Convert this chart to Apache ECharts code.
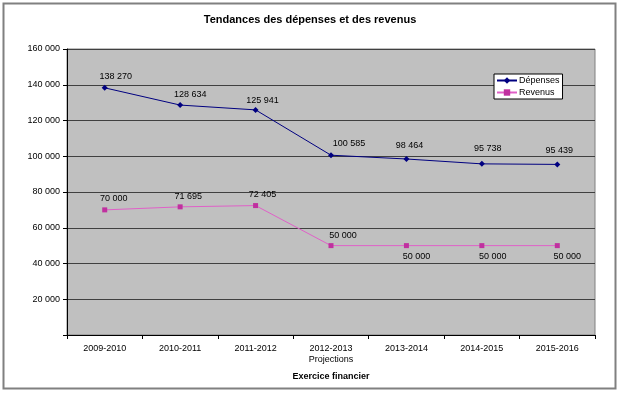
<!DOCTYPE html>
<html><head><meta charset="utf-8">
<script src="https://cdn.jsdelivr.net/npm/echarts@6/dist/echarts.min.js"></script>
<style>html,body{margin:0;padding:0;background:#fff}#c{width:620px;height:394px}</style>
</head><body><div id="c"></div>
<script>
var categories = ['2009-2010', '2010-2011', '2011-2012', '2012-2013\nProjections', '2013-2014', '2014-2015', '2015-2016'];
var depenses = [138270, 128634, 125941, 100585, 98464, 95738, 95439];
var revenus = [70000, 71695, 72405, 50000, 50000, 50000, 50000];
// label placement (text offsets, as in the original Excel chart)
var depensesLabelOffset = [[11, -11], [10, -11], [7, -9], [18, -12], [3, -13], [6, -15], [2, -14]];
var revenusLabelOffset = [[9, -11], [8, -10], [7, -11], [12, -10], [10, 11], [11, 11], [10, 11]];

function fmt(v) { return String(v).replace(/\B(?=(\d{3})+(?!\d))/g, ' '); }
var FONT = '"Liberation Sans", Arial, sans-serif';

function withLabels(values, offsets) {
  return values.map(function (v, i) {
    return {value: v, label: {offset: offsets[i]}};
  });
}

var chart = echarts.init(document.getElementById('c'), null, {renderer: 'canvas'});
chart.setOption({
  animation: false,
  textStyle: {fontFamily: FONT},
  title: {
    text: 'Tendances des dépenses et des revenus',
    left: 'center', top: 9,
    textStyle: {fontSize: 11, fontWeight: 'bold', color: '#000', fontFamily: FONT}
  },
  graphic: [{
    type: 'rect', shape: {x: 3.5, y: 3.5, width: 612, height: 385},
    style: {fill: 'none', stroke: '#808080', lineWidth: 2}, silent: true, z: -1
  }],
  legend: {
    orient: 'vertical', left: 494, top: 74,
    backgroundColor: '#fff', borderColor: '#000', borderWidth: 1,
    padding: [2, 3, 2, 2], itemGap: 3, itemWidth: 20, itemHeight: 8,
    textStyle: {fontSize: 9, color: '#000', fontFamily: FONT, padding: [0, 0, 0, -3]},
    data: ['Dépenses', 'Revenus']
  },
  grid: {
    left: 67, right: 25, top: 49, bottom: 59,
    show: true, backgroundColor: '#c0c0c0', borderColor: '#808080', borderWidth: 1
  },
  xAxis: {
    type: 'category', data: categories, boundaryGap: true,
    name: 'Exercice financier', nameLocation: 'middle', nameGap: 37,
    nameTextStyle: {fontSize: 9, fontWeight: 'bold', color: '#000', fontFamily: FONT},
    axisLine: {lineStyle: {color: '#000', width: 1}},
    axisTick: {show: true, length: 4, lineStyle: {color: '#000'}},
    axisLabel: {fontSize: 9, color: '#000', margin: 8, lineHeight: 11, interval: 0, fontFamily: FONT}
  },
  yAxis: {
    type: 'value', min: 0, max: 160000, interval: 20000,
    axisLine: {show: true, lineStyle: {color: '#000', width: 1}},
    axisTick: {show: true, length: 4, lineStyle: {color: '#000'}},
    axisLabel: {fontSize: 9, color: '#000', margin: 7, fontFamily: FONT,
      formatter: function (v) { return v === 0 ? '' : fmt(v); }},
    splitLine: {show: true, lineStyle: {color: '#404040', width: 1}}
  },
  series: [{
    name: 'Dépenses', type: 'line', data: withLabels(depenses, depensesLabelOffset),
    symbol: 'diamond', symbolSize: 6,
    lineStyle: {color: '#000080', width: 1},
    itemStyle: {color: '#000080'},
    label: {show: true, position: 'inside', align: 'center', verticalAlign: 'middle',
      fontSize: 9, color: '#000', fontFamily: FONT,
      formatter: function (p) { return fmt(p.value); }}
  }, {
    name: 'Revenus', type: 'line', data: withLabels(revenus, revenusLabelOffset),
    symbol: 'rect', symbolSize: 5,
    lineStyle: {color: '#E060C8', width: 1},
    itemStyle: {color: '#C0309F'},
    label: {show: true, position: 'inside', align: 'center', verticalAlign: 'middle',
      fontSize: 9, color: '#000', fontFamily: FONT,
      formatter: function (p) { return fmt(p.value); }}
  }]
});
</script></body></html>
